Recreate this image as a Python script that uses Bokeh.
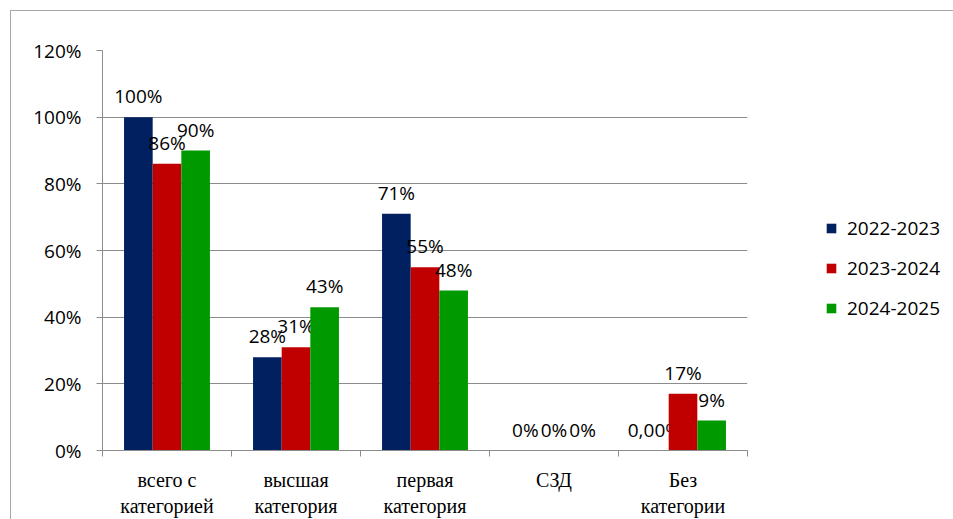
from bokeh.plotting import figure
from bokeh.layouts import row
from bokeh.models import FixedTicker, PrintfTickFormatter, ColumnDataSource, Legend, LegendItem
from bokeh.transform import dodge
from bokeh.core.properties import value
from bokeh.embed import file_html
from bokeh.resources import INLINE

# ---- data ----
categories = ["всего с\nкатегорией", "высшая\nкатегория", "первая\nкатегория", "СЗД", "Без\nкатегории"]
series_names = ["2022-2023", "2023-2024", "2024-2025"]
v2022 = [100, 28, 71, 0, 0]
v2023 = [86, 31, 55, 0, 17]
v2024 = [90, 43, 48, 0, 9]
l2022 = ["100%", "28%", "71%", "0%", "0,00%"]
l2023 = ["86%", "31%", "55%", "0%", "17%"]
l2024 = ["90%", "43%", "48%", "0%", "9%"]
y_ticks = [0, 20, 40, 60, 80, 100, 120]
colors = ["#002060", "#C00000", "#009A00"]

xc = [i + 0.5 for i in range(len(categories))]
bounds = list(range(len(categories) + 1))

font = "Open Sans"
H = 508

p = figure(width=740, height=H, output_backend="svg", toolbar_location=None,
           x_range=(0, len(categories)), y_range=(0, 120),
           min_border_left=91, min_border_right=4, min_border_top=39, min_border_bottom=68)
p.outline_line_color = None
p.background_fill_color = "white"
p.border_fill_color = "white"

bar_w = 0.222
offsets = [-bar_w, 0.0, bar_w]
for name, vals, labs, col, off in zip(series_names, [v2022, v2023, v2024],
                                      [l2022, l2023, l2024], colors, offsets):
    src = ColumnDataSource(dict(xc=xc, v=vals, lab=labs))
    p.vbar(x=dodge("xc", off), top="v", bottom=0, width=bar_w, source=src,
           fill_color=col, line_color=None)
    p.text(x=dodge("xc", off), y="v", text="lab", source=src, text_align="center",
           text_baseline="alphabetic", y_offset=-21, text_font=value(font),
           text_font_size="19px", text_color="black")

# y axis
yax = p.yaxis[0]
yax.ticker = FixedTicker(ticks=y_ticks, minor_ticks=[])
yax.formatter = PrintfTickFormatter(format="%d%%")
yax.axis_line_color = "#8c8c8c"
yax.major_tick_line_color = "#8c8c8c"
yax.major_tick_out = 6
yax.major_tick_in = 0
yax.minor_tick_line_color = None
yax.major_label_standoff = 15
yax.major_label_text_font = font
yax.major_label_text_font_size = "19px"
yax.major_label_text_color = "black"

# x axis
xax = p.xaxis[0]
xax.ticker = FixedTicker(ticks=xc, minor_ticks=bounds)
xax.major_label_overrides = {x: c for x, c in zip(xc, categories)}
xax.axis_line_color = "#8c8c8c"
xax.major_tick_line_color = None
xax.major_tick_out = 0
xax.major_tick_in = 0
xax.minor_tick_line_color = "#8c8c8c"
xax.minor_tick_out = 6
xax.minor_tick_in = 0
xax.major_label_standoff = 12
xax.major_label_text_font = "Liberation Serif"
xax.major_label_text_font_size = "20px"
xax.major_label_text_color = "black"

p.xgrid.grid_line_color = None
p.ygrid.ticker = FixedTicker(ticks=y_ticks)
p.ygrid.grid_line_color = "#8c8c8c"

# legend panel
q = figure(width=202, height=H, output_backend="svg", toolbar_location=None,
           x_axis_type=None, y_axis_type=None, x_range=(0, 1), y_range=(0, 1),
           min_border=0)
q.outline_line_color = None
q.xgrid.grid_line_color = None
q.ygrid.grid_line_color = None
q.background_fill_color = "white"
q.border_fill_color = "white"
leg_renderers = []
for name, col in zip(series_names, colors):
    # zero-height swatch renderer, used only for the legend key
    rr = q.vbar(x=[-1.0], top=[0.0], bottom=[0.0], width=0.01, fill_color=col, line_color=None)
    leg_renderers.append(rr)

legend = Legend(items=[LegendItem(label=n, renderers=[r]) for n, r in zip(series_names, leg_renderers)],
                location=(74, 129), glyph_width=12, glyph_height=12, label_standoff=10,
                spacing=14, label_height=26, padding=0, margin=0,
                border_line_color=None, background_fill_alpha=0,
                label_text_font=font, label_text_font_size="19px", label_text_color="black")
q.add_layout(legend)

layout = row(p, q, styles={"margin-left": "10px", "margin-top": "10px",
                           "border-left": "1px solid #a6a6a6", "border-top": "1px solid #a6a6a6"})

open("out.html", "w").write(file_html(layout, INLINE))
